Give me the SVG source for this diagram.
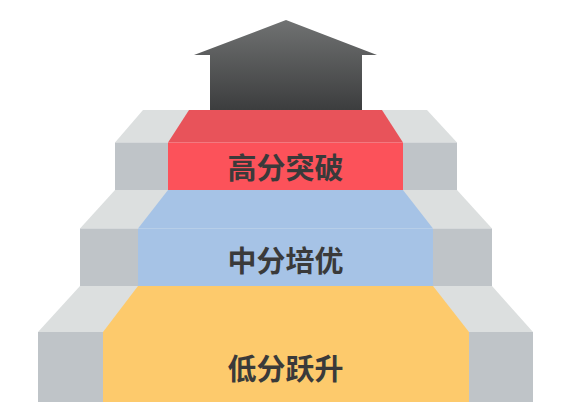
<svg xmlns="http://www.w3.org/2000/svg" width="570" height="403" viewBox="0 0 570 403">
<defs>
<linearGradient id="arrowGrad" x1="0" y1="0" x2="0" y2="1">
<stop offset="0" stop-color="#707272"/>
<stop offset="1" stop-color="#3c3d3e"/>
</linearGradient>
<style>
.gtop{fill:#dcdfdf}
.gfront{fill:#bfc4c8}
.lbl{font-family:"Noto Sans CJK SC","Noto Sans",sans-serif;font-weight:bold;font-size:29px;fill:#3a3a3a;text-anchor:middle;dominant-baseline:central}
</style>
</defs>
<rect width="570" height="403" fill="#ffffff"/>
<g id="arrow">
<polygon points="286,20 377,55 362,55 362,110 210,110 210,55 194,55" fill="url(#arrowGrad)"/>
</g>
<g id="step-low">
<polygon class="gtop" points="80,286 492,286 533,332 38,332"/>
<polygon points="138,286 433,286 469,332 103,332" fill="#fdca6c"/>
<rect class="gfront" x="38" y="332" width="65" height="70"/>
<rect class="gfront" x="469" y="332" width="64" height="70"/>
<rect x="103" y="332" width="366" height="70" fill="#fdca6c"/>
<text class="lbl" x="285.5" y="367">低分跃升</text>
</g>
<g id="step-mid">
<polygon class="gtop" points="115,190 457,190 492,228.5 80,228.5"/>
<polygon points="168,190 403,190 433,228.5 138,228.5" fill="#a6c3e6"/>
<rect class="gfront" x="80" y="228.5" width="58" height="57.5"/>
<rect class="gfront" x="433" y="228.5" width="59" height="57.5"/>
<rect x="138" y="228.5" width="295" height="57.5" fill="#a6c3e6"/>
<text class="lbl" x="285.5" y="259">中分培优</text>
</g>
<g id="step-high">
<polygon class="gtop" points="143,110 427,110 457,142.5 115,142.5"/>
<polygon points="189,110 382,110 403,142.5 168,142.5" fill="#e8535a"/>
<rect class="gfront" x="115" y="142.5" width="53" height="47.5"/>
<rect class="gfront" x="403" y="142.5" width="54" height="47.5"/>
<rect x="168" y="142.5" width="235" height="47.5" fill="#fc525a"/>
<text class="lbl" x="285.5" y="166">高分突破</text>
</g>
<g id="connectors"/>
</svg>
